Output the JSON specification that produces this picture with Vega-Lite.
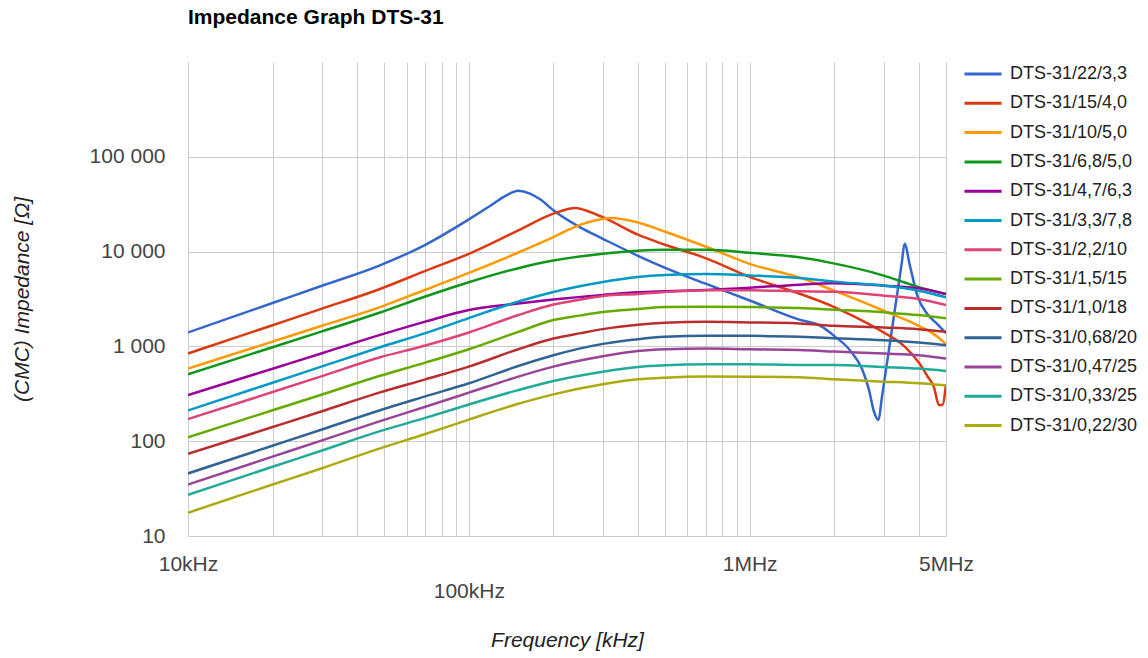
{
 "$schema": "https://vega.github.io/schema/vega-lite/v6.json",
 "width": 758, "height": 474,
 "autosize": {"type": "none"},
 "padding": {"left": 188, "top": 62, "right": 202, "bottom": 122},
 "background": "white",
 "config": {"view": {"stroke": null}, "font": "Liberation Sans"},
 "title": {"text": "Impedance Graph DTS-31", "anchor": "start", "frame": "group", "fontSize": 21, "fontWeight": "bold", "font": "Liberation Sans", "color": "#000000", "baseline": "alphabetic", "offset": 17},
 "data": {"values": [
  {"s":"DTS-31/22/3,3","f":10000,"z":1403},{"s":"DTS-31/22/3,3","f":20000,"z":2869},{"s":"DTS-31/22/3,3","f":30000,"z":4363},{"s":"DTS-31/22/3,3","f":48000,"z":7125},{"s":"DTS-31/22/3,3","f":70000,"z":11800},{"s":"DTS-31/22/3,3","f":100000,"z":21880},{"s":"DTS-31/22/3,3","f":120000,"z":30780},{"s":"DTS-31/22/3,3","f":135000,"z":38710},{"s":"DTS-31/22/3,3","f":150000,"z":43740},{"s":"DTS-31/22/3,3","f":165000,"z":40950},{"s":"DTS-31/22/3,3","f":180000,"z":35390},{"s":"DTS-31/22/3,3","f":200000,"z":27250},{"s":"DTS-31/22/3,3","f":250000,"z":17870},{"s":"DTS-31/22/3,3","f":300000,"z":13660},{"s":"DTS-31/22/3,3","f":400000,"z":9027},{"s":"DTS-31/22/3,3","f":500000,"z":6735},{"s":"DTS-31/22/3,3","f":700000,"z":4559},{"s":"DTS-31/22/3,3","f":1000000,"z":3050},{"s":"DTS-31/22/3,3","f":1500000,"z":1918},{"s":"DTS-31/22/3,3","f":1787000,"z":1649},{"s":"DTS-31/22/3,3","f":2005000,"z":1283},{"s":"DTS-31/22/3,3","f":2286000,"z":896},{"s":"DTS-31/22/3,3","f":2515000,"z":573},{"s":"DTS-31/22/3,3","f":2656000,"z":352},{"s":"DTS-31/22/3,3","f":2768000,"z":207},{"s":"DTS-31/22/3,3","f":2876000,"z":167},{"s":"DTS-31/22/3,3","f":2950000,"z":278},{"s":"DTS-31/22/3,3","f":3100000,"z":752},{"s":"DTS-31/22/3,3","f":3300000,"z":2635},{"s":"DTS-31/22/3,3","f":3480000,"z":7650},{"s":"DTS-31/22/3,3","f":3560000,"z":12090},{"s":"DTS-31/22/3,3","f":3719000,"z":7125},{"s":"DTS-31/22/3,3","f":3953000,"z":3428},{"s":"DTS-31/22/3,3","f":4290000,"z":2193},{"s":"DTS-31/22/3,3","f":4657000,"z":1719},{"s":"DTS-31/22/3,3","f":5000000,"z":1380},
  {"s":"DTS-31/15/4,0","f":10000,"z":841},{"s":"DTS-31/15/4,0","f":20000,"z":1673},{"s":"DTS-31/15/4,0","f":30000,"z":2502},{"s":"DTS-31/15/4,0","f":48000,"z":4007},{"s":"DTS-31/15/4,0","f":70000,"z":6260},{"s":"DTS-31/15/4,0","f":100000,"z":9478},{"s":"DTS-31/15/4,0","f":150000,"z":16730},{"s":"DTS-31/15/4,0","f":200000,"z":25140},{"s":"DTS-31/15/4,0","f":240000,"z":28890},{"s":"DTS-31/15/4,0","f":270000,"z":26200},{"s":"DTS-31/15/4,0","f":300000,"z":23080},{"s":"DTS-31/15/4,0","f":400000,"z":15070},{"s":"DTS-31/15/4,0","f":500000,"z":11800},{"s":"DTS-31/15/4,0","f":700000,"z":8492},{"s":"DTS-31/15/4,0","f":1000000,"z":5409},{"s":"DTS-31/15/4,0","f":1500000,"z":3616},{"s":"DTS-31/15/4,0","f":2000000,"z":2602},{"s":"DTS-31/15/4,0","f":2350000,"z":2073},{"s":"DTS-31/15/4,0","f":3000000,"z":1403},{"s":"DTS-31/15/4,0","f":3540000,"z":1012},{"s":"DTS-31/15/4,0","f":4000000,"z":675},{"s":"DTS-31/15/4,0","f":4290000,"z":487},{"s":"DTS-31/15/4,0","f":4530000,"z":370},{"s":"DTS-31/15/4,0","f":4720000,"z":241},{"s":"DTS-31/15/4,0","f":4850000,"z":241},{"s":"DTS-31/15/4,0","f":5000000,"z":400},
  {"s":"DTS-31/10/5,0","f":10000,"z":583},{"s":"DTS-31/10/5,0","f":20000,"z":1124},{"s":"DTS-31/10/5,0","f":30000,"z":1649},{"s":"DTS-31/10/5,0","f":48000,"z":2583},{"s":"DTS-31/10/5,0","f":70000,"z":3958},{"s":"DTS-31/10/5,0","f":100000,"z":5963},{"s":"DTS-31/10/5,0","f":150000,"z":9783},{"s":"DTS-31/10/5,0","f":200000,"z":14240},{"s":"DTS-31/10/5,0","f":250000,"z":19230},{"s":"DTS-31/10/5,0","f":320000,"z":22640},{"s":"DTS-31/10/5,0","f":400000,"z":20290},{"s":"DTS-31/10/5,0","f":500000,"z":16210},{"s":"DTS-31/10/5,0","f":700000,"z":11240},{"s":"DTS-31/10/5,0","f":1000000,"z":7428},{"s":"DTS-31/10/5,0","f":1500000,"z":5343},{"s":"DTS-31/10/5,0","f":2000000,"z":3871},{"s":"DTS-31/10/5,0","f":3000000,"z":2378},{"s":"DTS-31/10/5,0","f":4000000,"z":1649},{"s":"DTS-31/10/5,0","f":4530000,"z":1347},{"s":"DTS-31/10/5,0","f":5000000,"z":1055},
  {"s":"DTS-31/6,8/5,0","f":10000,"z":508},{"s":"DTS-31/6,8/5,0","f":20000,"z":980},{"s":"DTS-31/6,8/5,0","f":30000,"z":1442},{"s":"DTS-31/6,8/5,0","f":48000,"z":2264},{"s":"DTS-31/6,8/5,0","f":70000,"z":3361},{"s":"DTS-31/6,8/5,0","f":100000,"z":4753},{"s":"DTS-31/6,8/5,0","f":150000,"z":6686},{"s":"DTS-31/6,8/5,0","f":200000,"z":8045},{"s":"DTS-31/6,8/5,0","f":300000,"z":9478},{"s":"DTS-31/6,8/5,0","f":400000,"z":10200},{"s":"DTS-31/6,8/5,0","f":500000,"z":10450},{"s":"DTS-31/6,8/5,0","f":700000,"z":10450},{"s":"DTS-31/6,8/5,0","f":1000000,"z":9712},{"s":"DTS-31/6,8/5,0","f":1500000,"z":8702},{"s":"DTS-31/6,8/5,0","f":1887000,"z":7743},{"s":"DTS-31/6,8/5,0","f":3000000,"z":5582},{"s":"DTS-31/6,8/5,0","f":3540000,"z":4753},{"s":"DTS-31/6,8/5,0","f":4000000,"z":4206},{"s":"DTS-31/6,8/5,0","f":5000000,"z":3573},
  {"s":"DTS-31/4,7/6,3","f":10000,"z":306},{"s":"DTS-31/4,7/6,3","f":20000,"z":582},{"s":"DTS-31/4,7/6,3","f":30000,"z":847},{"s":"DTS-31/4,7/6,3","f":48000,"z":1314},{"s":"DTS-31/4,7/6,3","f":70000,"z":1827},{"s":"DTS-31/4,7/6,3","f":100000,"z":2418},{"s":"DTS-31/4,7/6,3","f":150000,"z":2834},{"s":"DTS-31/4,7/6,3","f":200000,"z":3123},{"s":"DTS-31/4,7/6,3","f":300000,"z":3487},{"s":"DTS-31/4,7/6,3","f":400000,"z":3724},{"s":"DTS-31/4,7/6,3","f":500000,"z":3816},{"s":"DTS-31/4,7/6,3","f":700000,"z":3938},{"s":"DTS-31/4,7/6,3","f":1000000,"z":4155},{"s":"DTS-31/4,7/6,3","f":1500000,"z":4482},{"s":"DTS-31/4,7/6,3","f":2000000,"z":4638},{"s":"DTS-31/4,7/6,3","f":3000000,"z":4374},{"s":"DTS-31/4,7/6,3","f":4000000,"z":4105},{"s":"DTS-31/4,7/6,3","f":5000000,"z":3573},
  {"s":"DTS-31/3,3/7,8","f":10000,"z":211},{"s":"DTS-31/3,3/7,8","f":20000,"z":414},{"s":"DTS-31/3,3/7,8","f":30000,"z":615},{"s":"DTS-31/3,3/7,8","f":48000,"z":973},{"s":"DTS-31/3,3/7,8","f":70000,"z":1380},{"s":"DTS-31/3,3/7,8","f":100000,"z":1989},{"s":"DTS-31/3,3/7,8","f":150000,"z":2975},{"s":"DTS-31/3,3/7,8","f":200000,"z":3752},{"s":"DTS-31/3,3/7,8","f":300000,"z":4787},{"s":"DTS-31/3,3/7,8","f":400000,"z":5409},{"s":"DTS-31/3,3/7,8","f":500000,"z":5679},{"s":"DTS-31/3,3/7,8","f":700000,"z":5819},{"s":"DTS-31/3,3/7,8","f":1000000,"z":5610},{"s":"DTS-31/3,3/7,8","f":1500000,"z":5278},{"s":"DTS-31/3,3/7,8","f":2000000,"z":4823},{"s":"DTS-31/3,3/7,8","f":3000000,"z":4374},{"s":"DTS-31/3,3/7,8","f":4000000,"z":3871},{"s":"DTS-31/3,3/7,8","f":5000000,"z":3296},
  {"s":"DTS-31/2,2/10","f":10000,"z":171},{"s":"DTS-31/2,2/10","f":20000,"z":330},{"s":"DTS-31/2,2/10","f":30000,"z":486},{"s":"DTS-31/2,2/10","f":48000,"z":763},{"s":"DTS-31/2,2/10","f":70000,"z":1022},{"s":"DTS-31/2,2/10","f":100000,"z":1403},{"s":"DTS-31/2,2/10","f":150000,"z":2141},{"s":"DTS-31/2,2/10","f":200000,"z":2765},{"s":"DTS-31/2,2/10","f":250000,"z":3123},{"s":"DTS-31/2,2/10","f":300000,"z":3402},{"s":"DTS-31/2,2/10","f":400000,"z":3573},{"s":"DTS-31/2,2/10","f":500000,"z":3752},{"s":"DTS-31/2,2/10","f":700000,"z":3910},{"s":"DTS-31/2,2/10","f":1000000,"z":3910},{"s":"DTS-31/2,2/10","f":1500000,"z":3816},{"s":"DTS-31/2,2/10","f":2000000,"z":3778},{"s":"DTS-31/2,2/10","f":3000000,"z":3428},{"s":"DTS-31/2,2/10","f":4000000,"z":3162},{"s":"DTS-31/2,2/10","f":5000000,"z":2732},
  {"s":"DTS-31/1,5/15","f":10000,"z":110},{"s":"DTS-31/1,5/15","f":20000,"z":212},{"s":"DTS-31/1,5/15","f":30000,"z":311},{"s":"DTS-31/1,5/15","f":48000,"z":487},{"s":"DTS-31/1,5/15","f":70000,"z":675},{"s":"DTS-31/1,5/15","f":100000,"z":934},{"s":"DTS-31/1,5/15","f":150000,"z":1424},{"s":"DTS-31/1,5/15","f":200000,"z":1895},{"s":"DTS-31/1,5/15","f":250000,"z":2125},{"s":"DTS-31/1,5/15","f":300000,"z":2303},{"s":"DTS-31/1,5/15","f":400000,"z":2478},{"s":"DTS-31/1,5/15","f":500000,"z":2602},{"s":"DTS-31/1,5/15","f":700000,"z":2620},{"s":"DTS-31/1,5/15","f":1000000,"z":2602},{"s":"DTS-31/1,5/15","f":1500000,"z":2539},{"s":"DTS-31/1,5/15","f":2000000,"z":2436},{"s":"DTS-31/1,5/15","f":3000000,"z":2286},{"s":"DTS-31/1,5/15","f":4000000,"z":2141},{"s":"DTS-31/1,5/15","f":5000000,"z":1975},
  {"s":"DTS-31/1,0/18","f":10000,"z":73.4},{"s":"DTS-31/1,0/18","f":20000,"z":141},{"s":"DTS-31/1,0/18","f":30000,"z":207},{"s":"DTS-31/1,0/18","f":48000,"z":325},{"s":"DTS-31/1,0/18","f":70000,"z":449},{"s":"DTS-31/1,0/18","f":100000,"z":612},{"s":"DTS-31/1,0/18","f":150000,"z":934},{"s":"DTS-31/1,0/18","f":200000,"z":1212},{"s":"DTS-31/1,0/18","f":250000,"z":1380},{"s":"DTS-31/1,0/18","f":300000,"z":1521},{"s":"DTS-31/1,0/18","f":400000,"z":1690},{"s":"DTS-31/1,0/18","f":500000,"z":1774},{"s":"DTS-31/1,0/18","f":700000,"z":1818},{"s":"DTS-31/1,0/18","f":1000000,"z":1792},{"s":"DTS-31/1,0/18","f":1500000,"z":1748},{"s":"DTS-31/1,0/18","f":2000000,"z":1649},{"s":"DTS-31/1,0/18","f":3000000,"z":1586},{"s":"DTS-31/1,0/18","f":4000000,"z":1521},{"s":"DTS-31/1,0/18","f":5000000,"z":1424},
  {"s":"DTS-31/0,68/20","f":10000,"z":45.7},{"s":"DTS-31/0,68/20","f":20000,"z":89.6},{"s":"DTS-31/0,68/20","f":30000,"z":133},{"s":"DTS-31/0,68/20","f":48000,"z":211},{"s":"DTS-31/0,68/20","f":70000,"z":297},{"s":"DTS-31/0,68/20","f":100000,"z":408},{"s":"DTS-31/0,68/20","f":150000,"z":621},{"s":"DTS-31/0,68/20","f":200000,"z":807},{"s":"DTS-31/0,68/20","f":300000,"z":1063},{"s":"DTS-31/0,68/20","f":400000,"z":1192},{"s":"DTS-31/0,68/20","f":500000,"z":1261},{"s":"DTS-31/0,68/20","f":700000,"z":1292},{"s":"DTS-31/0,68/20","f":1000000,"z":1292},{"s":"DTS-31/0,68/20","f":1500000,"z":1261},{"s":"DTS-31/0,68/20","f":2000000,"z":1221},{"s":"DTS-31/0,68/20","f":3000000,"z":1163},{"s":"DTS-31/0,68/20","f":4000000,"z":1100},{"s":"DTS-31/0,68/20","f":5000000,"z":1030},
  {"s":"DTS-31/0,47/25","f":10000,"z":34.9},{"s":"DTS-31/0,47/25","f":20000,"z":68.8},{"s":"DTS-31/0,47/25","f":30000,"z":102},{"s":"DTS-31/0,47/25","f":48000,"z":162},{"s":"DTS-31/0,47/25","f":70000,"z":231},{"s":"DTS-31/0,47/25","f":100000,"z":325},{"s":"DTS-31/0,47/25","f":150000,"z":480},{"s":"DTS-31/0,47/25","f":200000,"z":612},{"s":"DTS-31/0,47/25","f":300000,"z":787},{"s":"DTS-31/0,47/25","f":400000,"z":896},{"s":"DTS-31/0,47/25","f":500000,"z":934},{"s":"DTS-31/0,47/25","f":700000,"z":950},{"s":"DTS-31/0,47/25","f":1000000,"z":934},{"s":"DTS-31/0,47/25","f":1500000,"z":918},{"s":"DTS-31/0,47/25","f":2000000,"z":883},{"s":"DTS-31/0,47/25","f":3000000,"z":841},{"s":"DTS-31/0,47/25","f":4000000,"z":807},{"s":"DTS-31/0,47/25","f":5000000,"z":744},
  {"s":"DTS-31/0,33/25","f":10000,"z":27.2},{"s":"DTS-31/0,33/25","f":20000,"z":53.7},{"s":"DTS-31/0,33/25","f":30000,"z":79.9},{"s":"DTS-31/0,33/25","f":48000,"z":127},{"s":"DTS-31/0,33/25","f":70000,"z":176},{"s":"DTS-31/0,33/25","f":100000,"z":244},{"s":"DTS-31/0,33/25","f":150000,"z":346},{"s":"DTS-31/0,33/25","f":200000,"z":431},{"s":"DTS-31/0,33/25","f":300000,"z":540},{"s":"DTS-31/0,33/25","f":400000,"z":606},{"s":"DTS-31/0,33/25","f":500000,"z":632},{"s":"DTS-31/0,33/25","f":700000,"z":648},{"s":"DTS-31/0,33/25","f":1000000,"z":648},{"s":"DTS-31/0,33/25","f":1500000,"z":637},{"s":"DTS-31/0,33/25","f":2000000,"z":637},{"s":"DTS-31/0,33/25","f":3000000,"z":606},{"s":"DTS-31/0,33/25","f":4000000,"z":583},{"s":"DTS-31/0,33/25","f":5000000,"z":550},
  {"s":"DTS-31/0,22/30","f":10000,"z":17.6},{"s":"DTS-31/0,22/30","f":20000,"z":34.9},{"s":"DTS-31/0,22/30","f":30000,"z":51.9},{"s":"DTS-31/0,22/30","f":48000,"z":83.5},{"s":"DTS-31/0,22/30","f":70000,"z":119},{"s":"DTS-31/0,22/30","f":100000,"z":169},{"s":"DTS-31/0,22/30","f":150000,"z":248},{"s":"DTS-31/0,22/30","f":200000,"z":312},{"s":"DTS-31/0,22/30","f":300000,"z":398},{"s":"DTS-31/0,22/30","f":400000,"z":449},{"s":"DTS-31/0,22/30","f":500000,"z":468},{"s":"DTS-31/0,22/30","f":700000,"z":480},{"s":"DTS-31/0,22/30","f":1000000,"z":478},{"s":"DTS-31/0,22/30","f":1500000,"z":472},{"s":"DTS-31/0,22/30","f":2000000,"z":449},{"s":"DTS-31/0,22/30","f":3000000,"z":425},{"s":"DTS-31/0,22/30","f":4000000,"z":408},{"s":"DTS-31/0,22/30","f":5000000,"z":388}
 ]},
 "mark": {"type": "line", "strokeWidth": 2.5, "clip": true, "interpolate": "monotone"},
 "encoding": {
  "x": {"field": "f", "type": "quantitative",
   "scale": {"type": "log", "domain": [10000, 5000000], "nice": false},
   "axis": {"title": "Frequency [kHz]",
    "values": [10000,20000,30000,40000,50000,60000,70000,80000,90000,100000,200000,300000,400000,500000,600000,700000,800000,900000,1000000,2000000,3000000,4000000,5000000],
    "labelExpr": "datum.value == 10000 ? '10kHz' : datum.value == 100000 ? ['', '100kHz'] : datum.value == 1000000 ? '1MHz' : datum.value == 5000000 ? '5MHz' : ''",
    "grid": true, "gridColor": "#cccccc", "gridWidth": 1, "ticks": false, "tickSize": 0, "domain": false,
    "labelFlush": false, "labelOverlap": false, "labelFontSize": 21, "labelColor": "#444444", "labelFont": "Liberation Sans",
    "labelPadding": 17, "labelLineHeight": 27, "labelBaseline": "top",
    "titleFontSize": 21, "titleFontStyle": "italic", "titleFontWeight": "normal", "titleColor": "#222222", "titleFont": "Liberation Sans", "titlePadding": 28}},
  "y": {"field": "z", "type": "quantitative",
   "scale": {"type": "log", "domain": [10, 1000000], "nice": false},
   "axis": {"title": "(CMC) Impedance [Ω]",
    "values": [10, 100, 1000, 10000, 100000],
    "labelExpr": "datum.value >= 1000 ? format(datum.value / 1000, 'd') + ' 000' : format(datum.value, 'd')",
    "grid": true, "gridColor": "#cccccc", "gridWidth": 1, "ticks": false, "tickSize": 0, "domain": false,
    "labelOverlap": false, "labelFontSize": 21, "labelColor": "#444444", "labelFont": "Liberation Sans", "labelPadding": 23,
    "titleFontSize": 21, "titleFontStyle": "italic", "titleFontWeight": "normal", "titleColor": "#222222", "titleFont": "Liberation Sans", "titlePadding": 57}},
  "color": {"field": "s", "type": "nominal",
   "scale": {"domain": ["DTS-31/22/3,3","DTS-31/15/4,0","DTS-31/10/5,0","DTS-31/6,8/5,0","DTS-31/4,7/6,3","DTS-31/3,3/7,8","DTS-31/2,2/10","DTS-31/1,5/15","DTS-31/1,0/18","DTS-31/0,68/20","DTS-31/0,47/25","DTS-31/0,33/25","DTS-31/0,22/30"],
    "range": ["#3366cc","#dc3912","#ff9900","#109618","#990099","#0099c6","#dd4477","#66aa00","#b82e2e","#316395","#994499","#22aa99","#aaaa11"]},
   "legend": {"title": null, "orient": "right", "offset": 17, "padding": 0, "symbolType": "stroke", "symbolSize": 1369, "symbolStrokeWidth": 3,
    "labelFontSize": 18, "labelFont": "Liberation Sans", "labelColor": "#222222", "labelOffset": 7, "labelLimit": 300,
    "clipHeight": 24, "rowPadding": 5.3}}
 }
}
